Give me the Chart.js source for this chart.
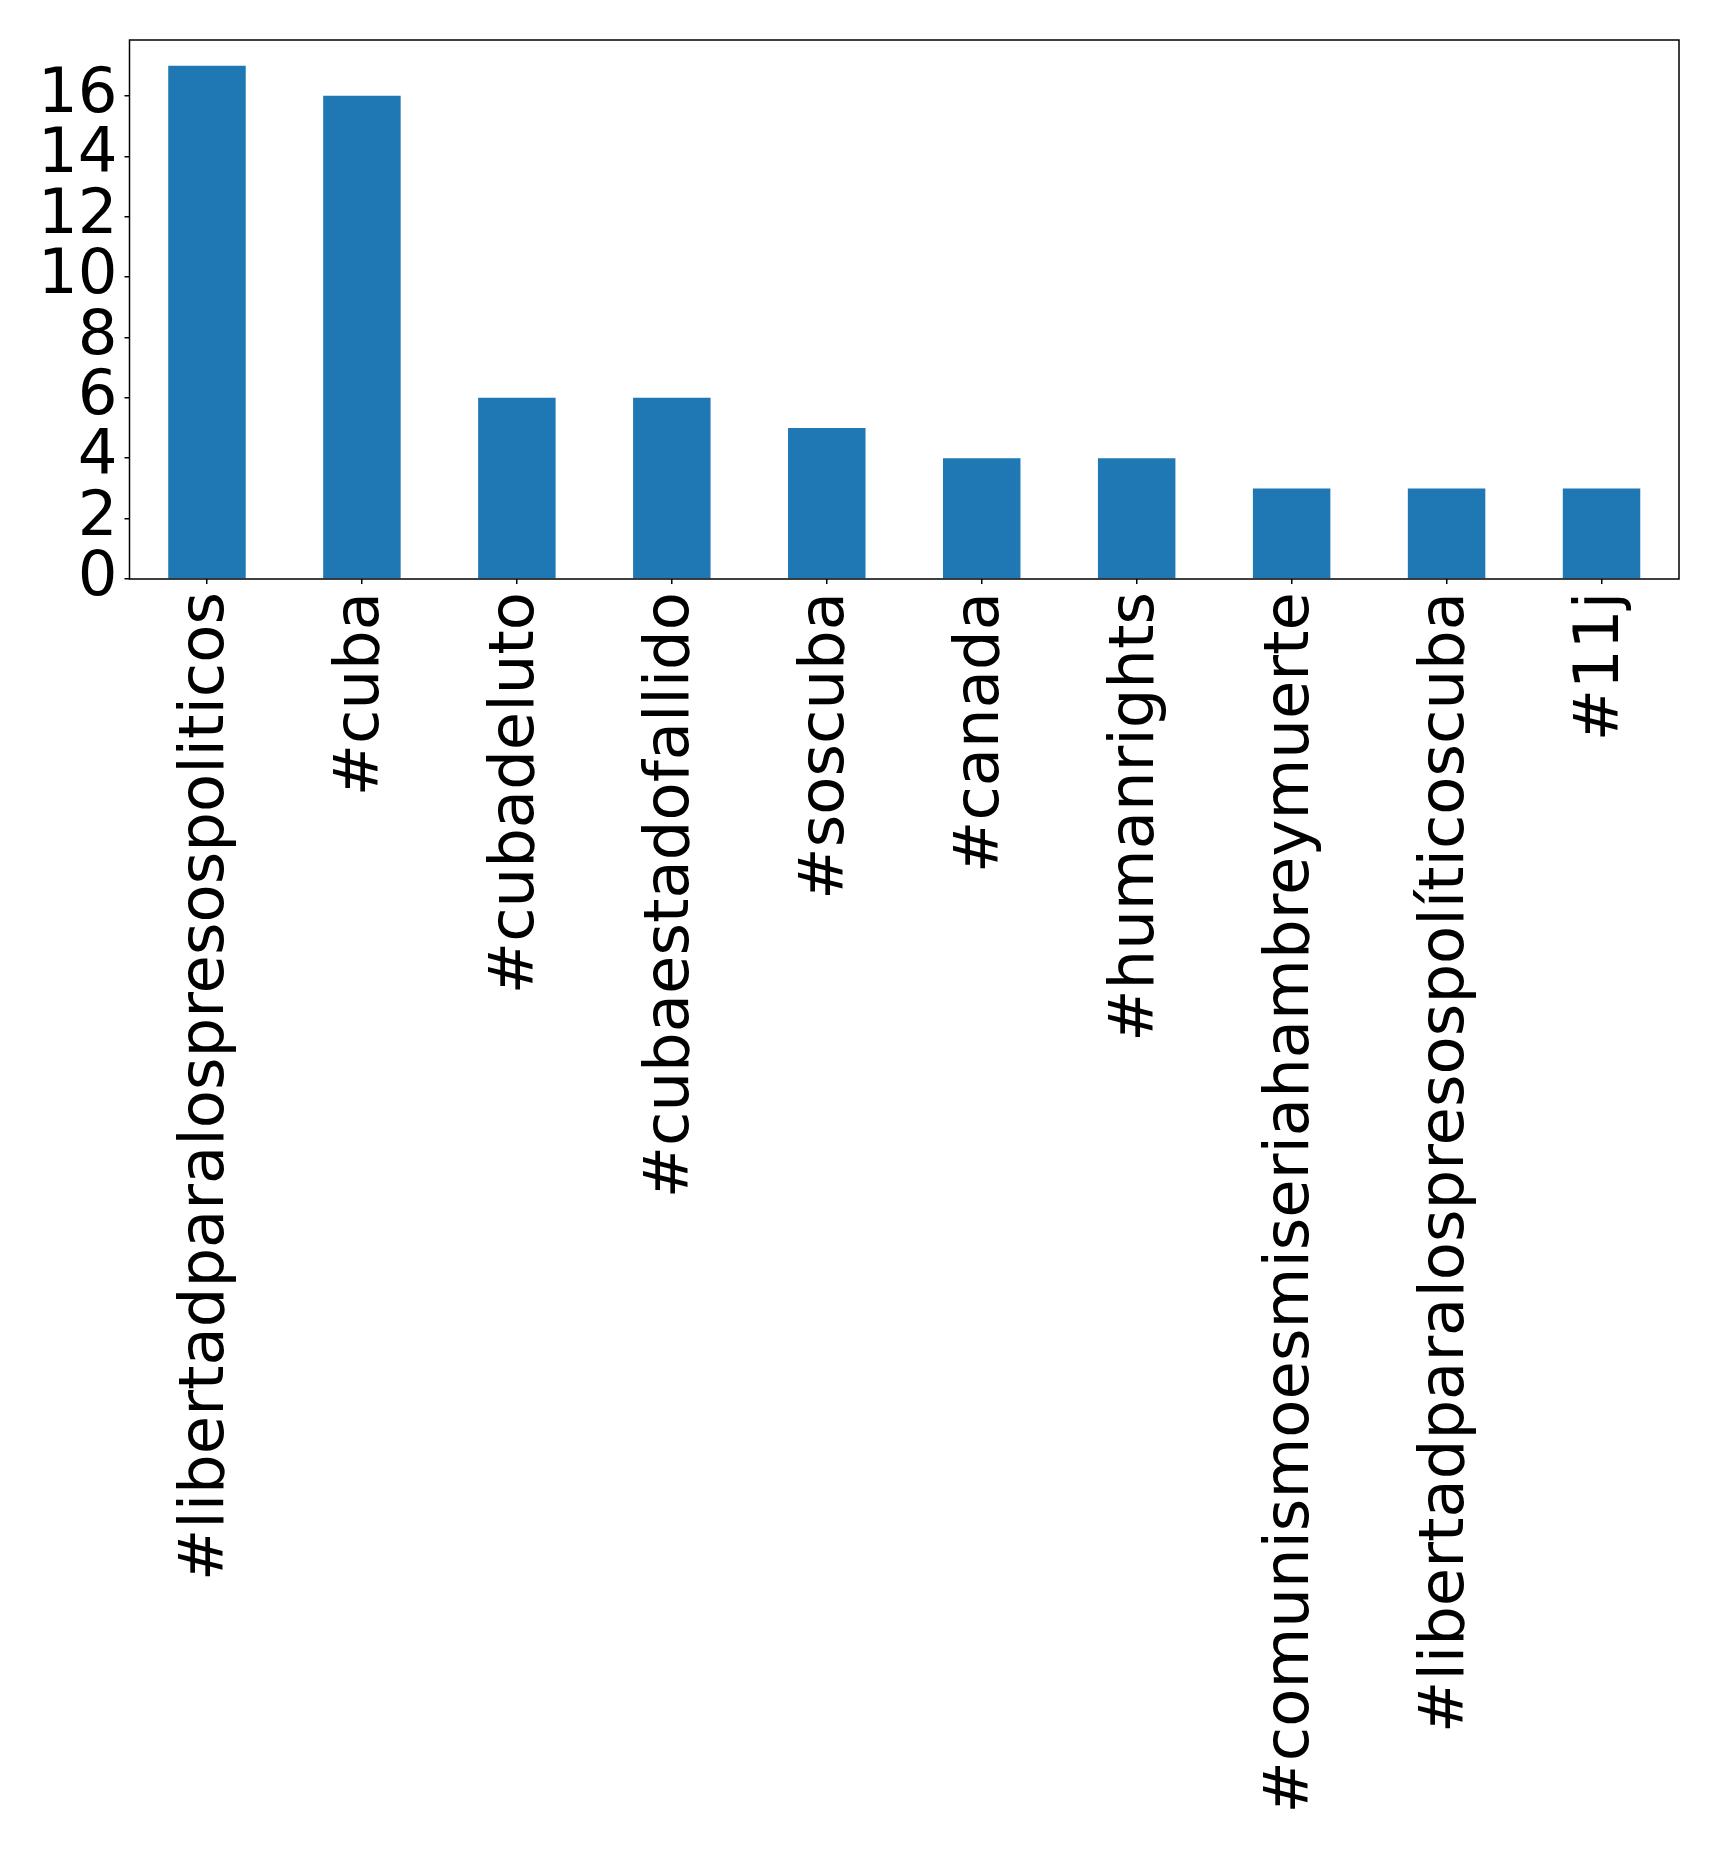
<!DOCTYPE html>
<html>
<head>
<meta charset="utf-8">
<script src="https://cdn.jsdelivr.net/npm/chart.js@4/dist/chart.umd.min.js"></script>
<style>
  html,body{margin:0;padding:0;background:#fff;}
  #wrap{width:1719px;height:1849px;}
</style>
</head>
<body>
<div id="wrap"><canvas id="chart" width="1719" height="1849"></canvas></div>
<script>
// ===== DATA =====
const hashtags = [
  "#libertadparalospresospoliticos",
  "#cuba",
  "#cubadeluto",
  "#cubaestadofallido",
  "#soscuba",
  "#canada",
  "#humanrights",
  "#comunismoesmiseriahambreymuerte",
  "#libertadparalospresospolíticoscuba",
  "#11j"
];
const counts = [17, 16, 6, 6, 5, 4, 4, 3, 3, 3];
const yTicks = [0, 2, 4, 6, 8, 10, 12, 14, 16];

// ===== FRAME =====
// box around the plot, like matplotlib axes spines
const frame = {
  id: "frame",
  afterDraw(c){
    let a = c.chartArea, ctx = c.ctx;
    ctx.save();
    ctx.strokeStyle = "#000";
    ctx.lineWidth = 1.5;
    ctx.strokeRect(a.left, a.top, a.right - a.left, a.bottom - a.top);
    ctx.restore();
  }
};

const font = {family: "'DejaVu Sans'", size: 62.5, lineHeight: 1};

new Chart(document.getElementById("chart"), {
  type: "bar",
  data: {
    labels: hashtags,
    datasets: [{
      data: counts,
      backgroundColor: "#1f77b4",
      barPercentage: 0.5,
      categoryPercentage: 1
    }]
  },
  options: {
    responsive: false,
    animation: false,
    layout: {padding: {top: 40, right: 40, left: 0, bottom: 0}},
    plugins: {legend: {display: false}, tooltip: {enabled: false}},
    scales: {
      x: {
        grid: {display: true, drawOnChartArea: false, offset: false, tickLength: 5, tickColor: "#000", lineWidth: 1.5},
        border: {display: false},
        ticks: {color: "#000", font, maxRotation: 90, minRotation: 90, padding: 8, autoSkip: false},
        afterFit(s){ s.height = 1849 - 579; }
      },
      y: {
        min: 0,
        max: 17.85,
        afterBuildTicks(s){ s.ticks = yTicks.map(v => ({value: v})); },
        grid: {display: true, drawOnChartArea: false, tickLength: 5, tickColor: "#000", lineWidth: 1.5},
        border: {display: false},
        ticks: {color: "#000", font, padding: 7, autoSkip: false},
        afterFit(s){ s.width = 129.5; }
      }
    }
  },
  plugins: [frame]
});
</script>
</body>
</html>
